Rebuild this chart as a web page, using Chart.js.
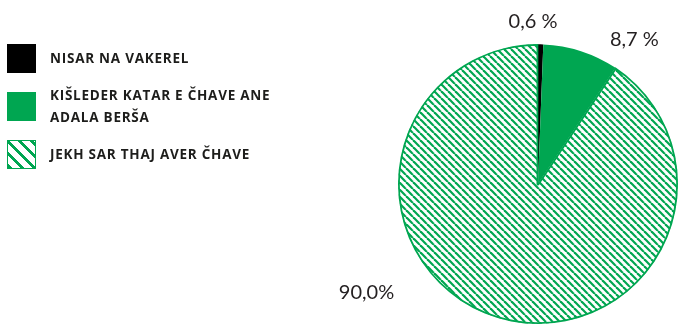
<!DOCTYPE html>
<html>
<head>
<meta charset="utf-8">
<script src="https://cdn.jsdelivr.net/npm/chart.js@4.4.0/dist/chart.umd.min.js"></script>
<style>
  html, body { margin: 0; padding: 0; background: #fff; }
  #wrap { position: relative; width: 678px; height: 327px; overflow: hidden; }
  #mycanvas { position: absolute; left: 0; top: 0; }
  #legend { position: absolute; left: 0; top: 0; font-family: "Open Sans", sans-serif; }
  .item { position: absolute; left: 7px; }
  .box { position: absolute; left: 0; top: 0; width: 29px; height: 29px; box-sizing: border-box; }
  .txt { position: absolute; left: 43px; font-weight: 700; font-size: 13.5px; letter-spacing: 0.75px;
         line-height: 22px; color: #1d1d1b; white-space: nowrap; }
</style>
</head>
<body>
<div id="wrap">
  <canvas id="mycanvas" width="678" height="327"></canvas>
  <div id="legend"></div>
</div>
<script>
// data
var categories = ['NISAR NA VAKEREL', 'KIŠLEDER KATAR E ČHAVE ANE\nADALA BERŠA', 'JEKH SAR THAJ AVER ČHAVE'];
var values = [0.6, 8.7, 90.0];
var valueLabels = ['0,6 %', '8,7 %', '90,0%'];

var green = '#00a651';

// hatch pattern for the big slice
function hatch(size, width) {
	var c = document.createElement('canvas');
	c.width = size; c.height = size;
	var g = c.getContext('2d');
	g.fillStyle = '#fff';
	g.fillRect(0, 0, size, size);
	g.strokeStyle = green;
	g.lineWidth = width;
	for (var k = -1; k <= 1; k++) {
		g.beginPath();
		g.moveTo(k * size, 0);
		g.lineTo(k * size + size, size);
		g.stroke();
	}
	return g.createPattern(c, 'repeat');
}

// where each value label sits: fraction along the slice, radius factor
var labelPos = [
	{ f: -0.8, r: 1.16 },
	{ f: 1.0, r: 1.24 },
	{ f: 0.625, r: 1.45 }
];

var valueLabelPlugin = {
	id: 'valueLabels',
	afterDatasetsDraw: function(chart) {
		var ctx = chart.ctx;
		var meta = chart.getDatasetMeta(0);
		ctx.save();
		ctx.font = '400 20px Lato, "Open Sans", sans-serif';
		ctx.fillStyle = '#231f20';
		ctx.textAlign = 'center';
		ctx.textBaseline = 'middle';
		meta.data.forEach(function(arc, i) {
			var p = labelPos[i];
			var a = arc.startAngle + (arc.endAngle - arc.startAngle) * p.f;
			var r = arc.outerRadius * p.r;
			ctx.fillText(valueLabels[i], arc.x + Math.cos(a) * r, arc.y + Math.sin(a) * r);
		});
		ctx.restore();
	}
};

var chartdata = {
	labels: categories,
	datasets: [
		{
			data: values,
			backgroundColor: ['#000000', green, hatch(7, 2.2)],
			borderColor: ['#000000', green, green],
			borderWidth: [0, 0, 1.5],
			borderAlign: 'inner'
		}
	]
};

var ctx = document.getElementById('mycanvas');
var pie = new Chart(ctx, {
	type: 'pie',
	data: chartdata,
	plugins: [valueLabelPlugin],
	options: {
		responsive: false,
		animation: false,
		layout: { padding: { left: 398, right: 0, top: 44, bottom: 3 } },
		plugins: {
			legend: { display: false },
			tooltip: { enabled: false }
		}
	}
});

// legend on the left
var legendTops = [44, 92, 140];
var boxStyles = [
	'background:#000;',
	'background:' + green + ';',
	'background:repeating-linear-gradient(45deg,' + green + ' 0 3px,#fff 3px 8.5px);border:1.5px solid ' + green + ';'
];
var legend = document.getElementById('legend');
categories.forEach(function(name, i) {
	var lines = name.split('\n');
	var item = document.createElement('div');
	item.className = 'item';
	item.style.top = legendTops[i] + 'px';
	var box = document.createElement('div');
	box.className = 'box';
	box.style.cssText = boxStyles[i];
	item.appendChild(box);
	var txt = document.createElement('div');
	txt.className = 'txt';
	txt.style.top = (lines.length > 1 ? -8 : 3) + 'px';
	txt.innerHTML = lines.join('<br>');
	item.appendChild(txt);
	legend.appendChild(item);
});
</script>
</body>
</html>
